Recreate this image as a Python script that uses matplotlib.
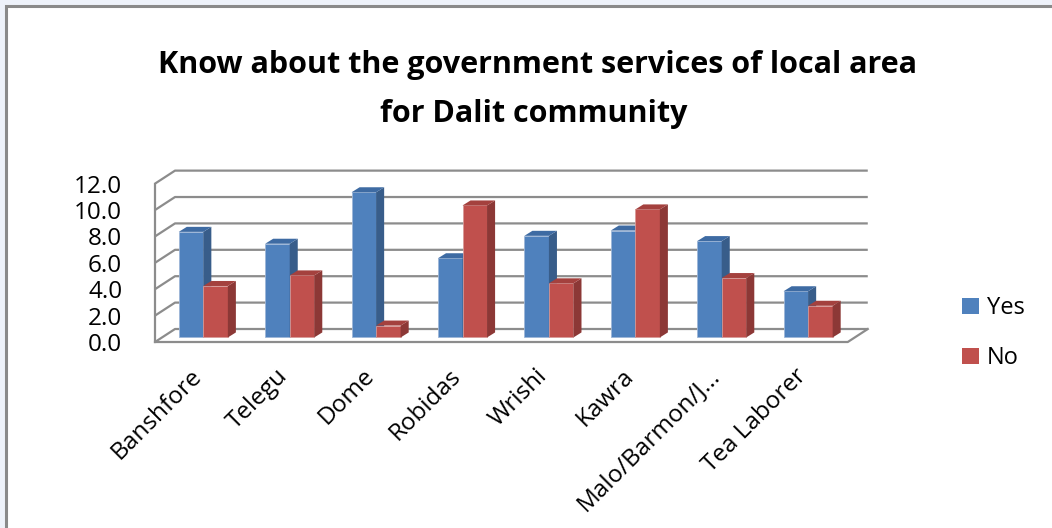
import matplotlib
matplotlib.use("Agg")
import matplotlib.pyplot as plt
from matplotlib.patches import Polygon, Rectangle, Patch

plt.rcParams['font.family'] = ['Open Sans', 'DejaVu Sans']

# survey answers per community
groups = ['Banshfore', 'Telegu', 'Dome', 'Robidas', 'Wrishi', 'Kawra',
          'Malo/Barmon/J...', 'Tea Laborer']
yes = [8.0, 7.1, 11.0, 6.0, 7.7, 8.1, 7.3, 3.5]
no = [3.9, 4.7, 0.9, 10.0, 4.1, 9.7, 4.5, 2.4]
yticks = [0, 2, 4, 6, 8, 10, 12]

# colours for the front, side and top faces of the columns
blue = ('#4F81BD', '#385D8A', '#3E6BA3')
red = ('#C0504D', '#8C3836', '#A4413E')
wall = '#8C8C8C'

# depth of the chart box (oblique 3d look) in data units
DX, DY = 0.2315, 0.985
# columns sit partly back in the box, and have their own depth
f_off = 0.35
bdx, bdy = 0.093, 0.38
bw = 0.284
x_left, x_right = -0.478, 7.54

fig = plt.figure(figsize=(10.52, 5.28), dpi=100)
fig.patch.set_facecolor('#EEF2FA')
# white chart area with a grey frame on the visible edges
fig.patches.append(Rectangle((5.5 / 1052, -0.2), 1.2, (528 - 5.5) / 528 + 0.2,
                             transform=fig.transFigure, facecolor='white',
                             edgecolor='#8A8A8A', linewidth=2.2, zorder=-5))

ax = fig.add_axes([150 / 1052, 178 / 528, 730 / 1052, 190 / 528])
ax.set_xlim(-0.536, 7.913)
ax.set_ylim(-0.606, 13.79)
ax.patch.set_alpha(0)
for s in ax.spines.values():
    s.set_visible(False)

# walls: gridlines on the back wall, diagonals on the left wall
for v in yticks:
    ax.plot([x_left, x_left + DX, x_right + DX], [v, v + DY, v + DY],
            color=wall, lw=1.6, solid_capstyle='butt')
ax.plot([x_left, x_left], [0, 12], color=wall, lw=1.6)
# floor
ax.plot([x_left, x_right, x_right + DX], [0, 0, DY], color=wall, lw=1.6)

# columns
for i in range(len(groups)):
    for k, (vals, cols) in enumerate([(yes, blue), (no, red)]):
        v = vals[i]
        xl = i - bw + k * bw + f_off * DX
        xr = xl + bw
        b0 = f_off * DY
        t = b0 + v
        ax.bar(xl, v, width=bw, bottom=b0, align='edge', color=cols[0],
               edgecolor='#9DB6D8' if k == 0 else '#D89A98', linewidth=0.6,
               zorder=3)
        ax.add_patch(Polygon([(xr, b0), (xr + bdx, b0 + bdy),
                              (xr + bdx, t + bdy), (xr, t)],
                             closed=True, facecolor=cols[1], edgecolor='none',
                             zorder=3))
        ax.add_patch(Polygon([(xl, t), (xl + bdx, t + bdy),
                              (xr + bdx, t + bdy), (xr, t)],
                             closed=True, facecolor=cols[2], edgecolor='none',
                             zorder=3))

ax.set_xticks([])
ax.set_yticks(yticks)
ax.set_yticklabels(['%.1f' % v for v in yticks], fontsize=17.5)
ax.tick_params(axis='y', length=0, pad=20)

# category names, slanted
for i, name in enumerate(groups):
    ax.text(i + 0.02, -2.3, name, rotation=45, rotation_mode='anchor',
            ha='right', va='center', fontsize=17.5, clip_on=False)

fig.text(537 / 1052, 1 - 73 / 528,
         'Know about the government services of local area',
         ha='center', va='baseline', fontsize=22, fontweight='bold')
fig.text(534 / 1052, 1 - 122 / 528, 'for Dalit community',
         ha='center', va='baseline', fontsize=22, fontweight='bold')

handles = [Patch(facecolor=blue[0]), Patch(facecolor=red[0])]
fig.legend(handles, ['Yes', 'No'], loc='center left',
           bbox_to_anchor=(941 / 1052, 1 - 333 / 528), frameon=False,
           fontsize=17, handlelength=0.7, handleheight=0.65,
           handletextpad=0.35, labelspacing=1.1)

fig.savefig('out.png', dpi=100)
